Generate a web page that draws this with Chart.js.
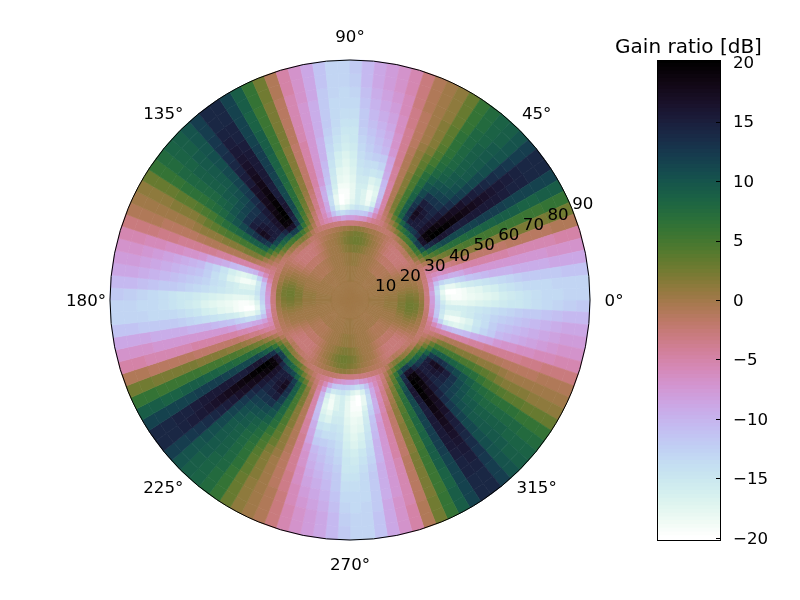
<!DOCTYPE html>
<html>
<head>
<meta charset="utf-8">
<style>
html,body{margin:0;padding:0;background:#fff}
#wrap{position:relative;width:800px;height:600px}
canvas{position:absolute;left:0;top:0}
</style>
<script src="https://cdn.jsdelivr.net/npm/chart.js@4"></script>
</head>
<body>
<div id="wrap">
<canvas id="polar" width="800" height="600"></canvas>
<canvas id="bar" width="800" height="600"></canvas>
</div>
<script>
const angleTicks = [0,45,90,135,180,225,270,315];
const radialTicks = [10,20,30,40,50,60,70,80,90];
const colorbarTicks = [-20,-15,-10,-5,0,5,10,15,20];
const colorbarTitle = 'Gain ratio [dB]';
const radiusEdges = [0,7,13,18,21,24,26,28,30,32,34,36,38,40,42,44,47,50,53,56,59,62,65,68,72,76,80,85,90];
const quadrantCopies = 4; // the picture repeats every 90 degrees
// gain in dB, one row per radial band (inner to outer), one column per 3 degrees from 0 to 90
const gainQuadrant = [
[0,0,0,0,0,0,0,0,0,0,0,0,0,0,0,0,0,0,0,0,0,0,0,0,0,0,0,0,0,0],
[0.2,0.2,0.1,0,0,0,0,0,0,0,-0.1,-0.2,-0.2,-0.2,-0.2,-0.2,-0.2,-0.1,0,0,0,0,0,0,0,0.1,0.2,0.2,0.2,0.2],
[0.5,0.5,0.3,0.1,0,0,0,0,-0.2,-0.4,-0.6,-0.8,-0.9,-1,-1,-1,-0.9,-0.8,-0.6,-0.4,-0.2,0,0,0,0.2,0.4,0.6,0.7,0.7,0.6],
[1.4,1.2,0.8,0.4,0.1,0,0,-0.2,-0.6,-1,-1.4,-1.7,-1.9,-2,-2,-2,-1.9,-1.7,-1.3,-0.9,-0.4,0,0.2,0.5,0.9,1.3,1.6,1.8,1.8,1.6],
[2,1.7,1.1,0.6,0.2,0,-0.1,-0.4,-1,-1.6,-2.1,-2.5,-2.7,-2.8,-2.8,-2.8,-2.7,-2.4,-1.9,-1.3,-0.6,0,0.4,0.9,1.5,2,2.4,2.6,2.6,2.3],
[1.6,1.3,0.8,0.3,0,-0.3,-0.6,-0.9,-1.4,-2,-2.4,-2.7,-2.8,-2.8,-2.8,-2.8,-2.8,-2.6,-2.2,-1.6,-0.9,-0.4,0,0.5,1.1,1.6,2,2.2,2.2,1.9],
[0.3,0.1,-0.2,-0.5,-0.7,-1,-1.2,-1.3,-1.5,-1.8,-2,-1.5,-1,-1.2,-1.6,-1.9,-2.1,-2.2,-2,-1.6,-1.2,-0.8,-0.5,-0.2,0,0.4,0.8,1,1,0.7],
[-3,-3.2,-3,-3,-2.8,-2.6,-2.6,-2.4,-2,-1,0.5,1.5,2,1.5,1,0.5,0,-0.8,-1.5,-2,-2.2,-2.2,-2.2,-2,-2,-2,-2.2,-2.5,-2.8,-3],
[-8,-8.5,-7.5,-7,-6,-5.5,-4.5,-3,-1,1,3,5,6,6,5,4.5,4,3,1.5,0,-1,-2,-3,-3.5,-4,-5,-6.5,-7,-7.5,-8],
[-13,-14,-13,-11,-8,-6,-4.5,-2.5,0,3,6,9.5,12,12,10,9,8,6.5,5,2.5,0.5,-1,-2.5,-4,-6,-9,-11.5,-12,-12,-12.5],
[-17,-18,-16.5,-13,-9,-6.5,-4,-2,1,4,8,13,16.5,16.5,14,12.5,12,11,8.5,5.5,3,0,-2,-4.5,-8,-13,-15.5,-15,-14.5,-15.5],
[-19,-20,-18,-14,-9,-6,-3.5,-1,2,5,9,14,19,19,16.5,15,15,15,12,8.5,5,1.5,-1.5,-5,-10,-16,-18.5,-17,-16,-17.5],
[-19.5,-20,-18,-14,-9.5,-6,-3.5,-0.5,2.5,6,10,15,20,19.5,16.5,15,15.5,17,13,9,5,2,-1,-5,-10.5,-17,-19,-17,-16,-18],
[-19.5,-19.5,-17,-13,-9.5,-5.5,-3,0,3,6.5,11,16,20,19,16.5,15,16,17.5,13.5,9,5,2,-1,-5,-11,-17.5,-19,-17,-16,-18],
[-19,-19,-16,-12.5,-9,-5.5,-2.5,0.5,3.5,7,11,16,20,18.5,16,14.5,15.5,16.5,13,9,5,2,-1,-5,-11,-17,-18,-16,-16,-18],
[-18.5,-18,-15.5,-11.5,-8,-5,-2,1,4,7,11,15.5,19.5,18,15.5,14,14.5,15,12,8.5,5,1.5,-1,-5,-10.5,-16,-17,-15.5,-15.5,-17.5],
[-18,-17.5,-15,-11,-7.5,-5,-2,1,4.5,7.5,11,15,19,17.5,14.5,13,13,13,11,8,4.5,1.5,-1,-4.5,-9.5,-14.5,-15,-14.5,-15,-17],
[-17.5,-16.5,-14.5,-10.5,-7.5,-5,-2,1.5,4.5,8,11.5,15,18.5,17,13.5,12,11.5,11,10,7.5,4.5,1.5,-1,-4.5,-9,-13,-14,-14,-14.5,-16.5],
[-17,-16,-14,-10,-7.5,-5,-2,1.5,5,8,11.5,15.5,18,16.5,12.5,11,10.5,10,9,7,4,1,-1,-4,-8.5,-12,-12.5,-13,-14,-16],
[-16,-15,-13.5,-10,-7.5,-5,-2,1.5,5,8.5,12,15.5,17.5,15.5,12,10.5,9.5,9,8,6,3.5,1,-1,-4,-7.5,-10.5,-11.5,-12.5,-13.5,-15.5],
[-15.5,-14.5,-13,-10,-7.5,-5,-2,1.5,5,8.5,12,15.5,17,15,11.5,10,9.5,8.5,7.5,5,3,1,-1.2,-4,-7,-10,-11,-12,-13,-15],
[-15,-14,-12.5,-9.5,-7.5,-5.5,-1.5,2,5.5,9,12,15.5,16.5,14.5,11,9.5,9,8,7,4.5,2,0.5,-1.5,-4,-7,-9.5,-10.5,-11.5,-12.5,-15],
[-14.5,-13.5,-12,-9.5,-7.5,-5.5,-1.5,2,5.5,9,12,15.5,16,14,11,9.5,9,8,6.5,4,1.5,0,-1.5,-4,-6.5,-9,-10,-11,-12,-14.5],
[-14,-13.5,-12,-9.5,-7.5,-5.5,-1.5,2,5.5,9,11.5,15,15.5,13.5,10.5,9.5,9,8,6.5,3.5,1.5,0,-1.5,-3.5,-6.5,-8.5,-9.5,-10.5,-12,-14],
[-13.5,-13.5,-12,-9.5,-7.5,-5.5,-1.5,2,5.5,8.5,11.5,14.5,15,13,10.5,9.5,9,8,6.5,3.5,1.5,0,-1.5,-3.5,-6,-8,-9,-10,-11.5,-13.5],
[-13.5,-13,-12,-9,-7,-5.5,-1.5,2,5.5,8.5,11.5,14.5,14.5,12.5,10,9.5,8.5,8,6,3,1,0,-1,-3,-6,-7.5,-8.5,-9.5,-11,-13],
[-13,-13,-11.5,-9,-7,-5,-1,2.5,6,9,11.5,14,14,12,10,9,8.5,7.5,6,3,1,0,-1,-3,-5.5,-7,-8,-9,-10.5,-12.5],
[-13,-13,-11.5,-9,-7,-5,-1,2.5,6,9,11.5,14,14,12,10,9,8.5,7.5,6,3,1,0,-1,-3,-5.5,-7,-8,-9,-10.5,-12]
];

const FONT = '"DejaVu Sans"';
const VMAX = 20.17;

// reversed cubehelix colour map
function gainColor(v){
  const x = Math.min(1, Math.max(0, (20 - v) / 40));
  const a = x * (1 - x) / 2;
  const p = 2 * Math.PI * (0.5 / 3 - 1.5 * x);
  const c = Math.cos(p), s = Math.sin(p);
  const ch = k => Math.round(255 * Math.min(1, Math.max(0, k)));
  return 'rgb(' + ch(x + a * (-0.14861 * c + 1.78277 * s)) + ',' +
                  ch(x + a * (-0.29227 * c - 0.90649 * s)) + ',' +
                  ch(x + a * (1.97294 * c)) + ')';
}

// Chart.js draws dataset 0 as the outer ring and sweeps clockwise.
const ringDatasets = gainQuadrant.map((row, i) => {
  let full = [];
  for (let q = 0; q < quadrantCopies; q++) full = full.concat(row);
  const cw = full.slice().reverse();
  const colors = cw.map(gainColor);
  return {
    data: cw.map(() => 1),
    gain: cw,
    weight: radiusEdges[i + 1] - radiusEdges[i],
    backgroundColor: colors,
    borderColor: colors,
    borderWidth: 0.7
  };
}).reverse();

const polarDecor = {
  id: 'polarDecor',
  afterDraw(chart){
    const {ctx, chartArea} = chart;
    const cx = (chartArea.left + chartArea.right) / 2;
    const cy = (chartArea.top + chartArea.bottom) / 2;
    const R = chart.getDatasetMeta(0).controller.outerRadius;
    ctx.save();
    ctx.beginPath();
    ctx.arc(cx, cy, R, 0, Math.PI * 2);
    ctx.lineWidth = 1;
    ctx.strokeStyle = '#000';
    ctx.stroke();
    ctx.fillStyle = '#000';
    ctx.font = '16.67px ' + FONT;
    ctx.textAlign = 'center';
    ctx.textBaseline = 'middle';
    angleTicks.forEach(a => {
      const t = a * Math.PI / 180;
      ctx.fillText(a + '\u00b0', cx + 264 * Math.cos(t), cy - 264 * Math.sin(t) + 1.7);
    });
    const t = 22.5 * Math.PI / 180;
    radialTicks.forEach(v => {
      const r = v / 90 * R;
      ctx.fillText(String(v), cx + r * Math.cos(t) + 11, cy - r * Math.sin(t) - 3);
    });
    ctx.restore();
  }
};

new Chart(document.getElementById('polar'), {
  type: 'doughnut',
  data: { datasets: ringDatasets },
  options: {
    responsive: false,
    animation: false,
    cutout: 0,
    radius: 240,
    rotation: 90,
    layout: { padding: { left: 110, right: 210, top: 60, bottom: 60 } },
    plugins: { legend: { display: false }, tooltip: { enabled: false } }
  },
  plugins: [polarDecor]
});

// colour bar levels
const barLevelCount = 128;
const barLevels = [];
for (let i = 0; i < barLevelCount; i++) barLevels.push(-VMAX + (2 * VMAX) * i / barLevelCount);
const barDatasets = barLevels.map(lo => ({
  data: [[lo, Math.min(VMAX, lo + 2 * VMAX / barLevelCount + 0.06)]],
  backgroundColor: gainColor(lo + VMAX / barLevelCount),
  borderWidth: 0
}));

const barDecor = {
  id: 'barDecor',
  afterDraw(chart){
    const {ctx, chartArea: a, scales} = chart;
    ctx.save();
    ctx.strokeStyle = '#000';
    ctx.lineWidth = 1;
    ctx.beginPath();
    colorbarTicks.forEach(v => {
      const y = Math.round(scales.y.getPixelForValue(v)) + 0.5;
      ctx.moveTo(a.right - 4, y);
      ctx.lineTo(a.right, y);
    });
    ctx.stroke();
    ctx.strokeRect(Math.round(a.left) + 0.5, Math.round(a.top) + 0.5,
                   Math.round(a.right - a.left), Math.round(a.bottom - a.top));
    ctx.fillStyle = '#000';
    ctx.font = '20px ' + FONT;
    ctx.textAlign = 'center';
    ctx.textBaseline = 'alphabetic';
    ctx.fillText(colorbarTitle, (a.left + a.right) / 2, 53);
    ctx.restore();
  }
};

new Chart(document.getElementById('bar'), {
  type: 'bar',
  data: { labels: ['gain'], datasets: barDatasets },
  options: {
    responsive: false,
    animation: false,
    layout: { padding: { left: 657, right: 20, top: 60, bottom: 60 } },
    datasets: { bar: { grouped: false, barPercentage: 1, categoryPercentage: 1 } },
    scales: {
      x: { display: false },
      y: {
        position: 'right',
        min: -VMAX,
        max: VMAX,
        afterFit: s => { s.width = 60; },
        afterBuildTicks: s => { s.ticks = colorbarTicks.map(v => ({ value: v })); },
        grid: { display: false },
        border: { display: false },
        ticks: {
          autoSkip: false,
          padding: 5,
          labelOffset: 1.5,
          color: '#000',
          font: { family: FONT, size: 16.67 },
          callback: v => String(v).replace('-', '\u2212')
        }
      }
    },
    plugins: {
      legend: { display: false },
      tooltip: { enabled: false }
    }
  },
  plugins: [barDecor]
});
</script>
</body>
</html>
